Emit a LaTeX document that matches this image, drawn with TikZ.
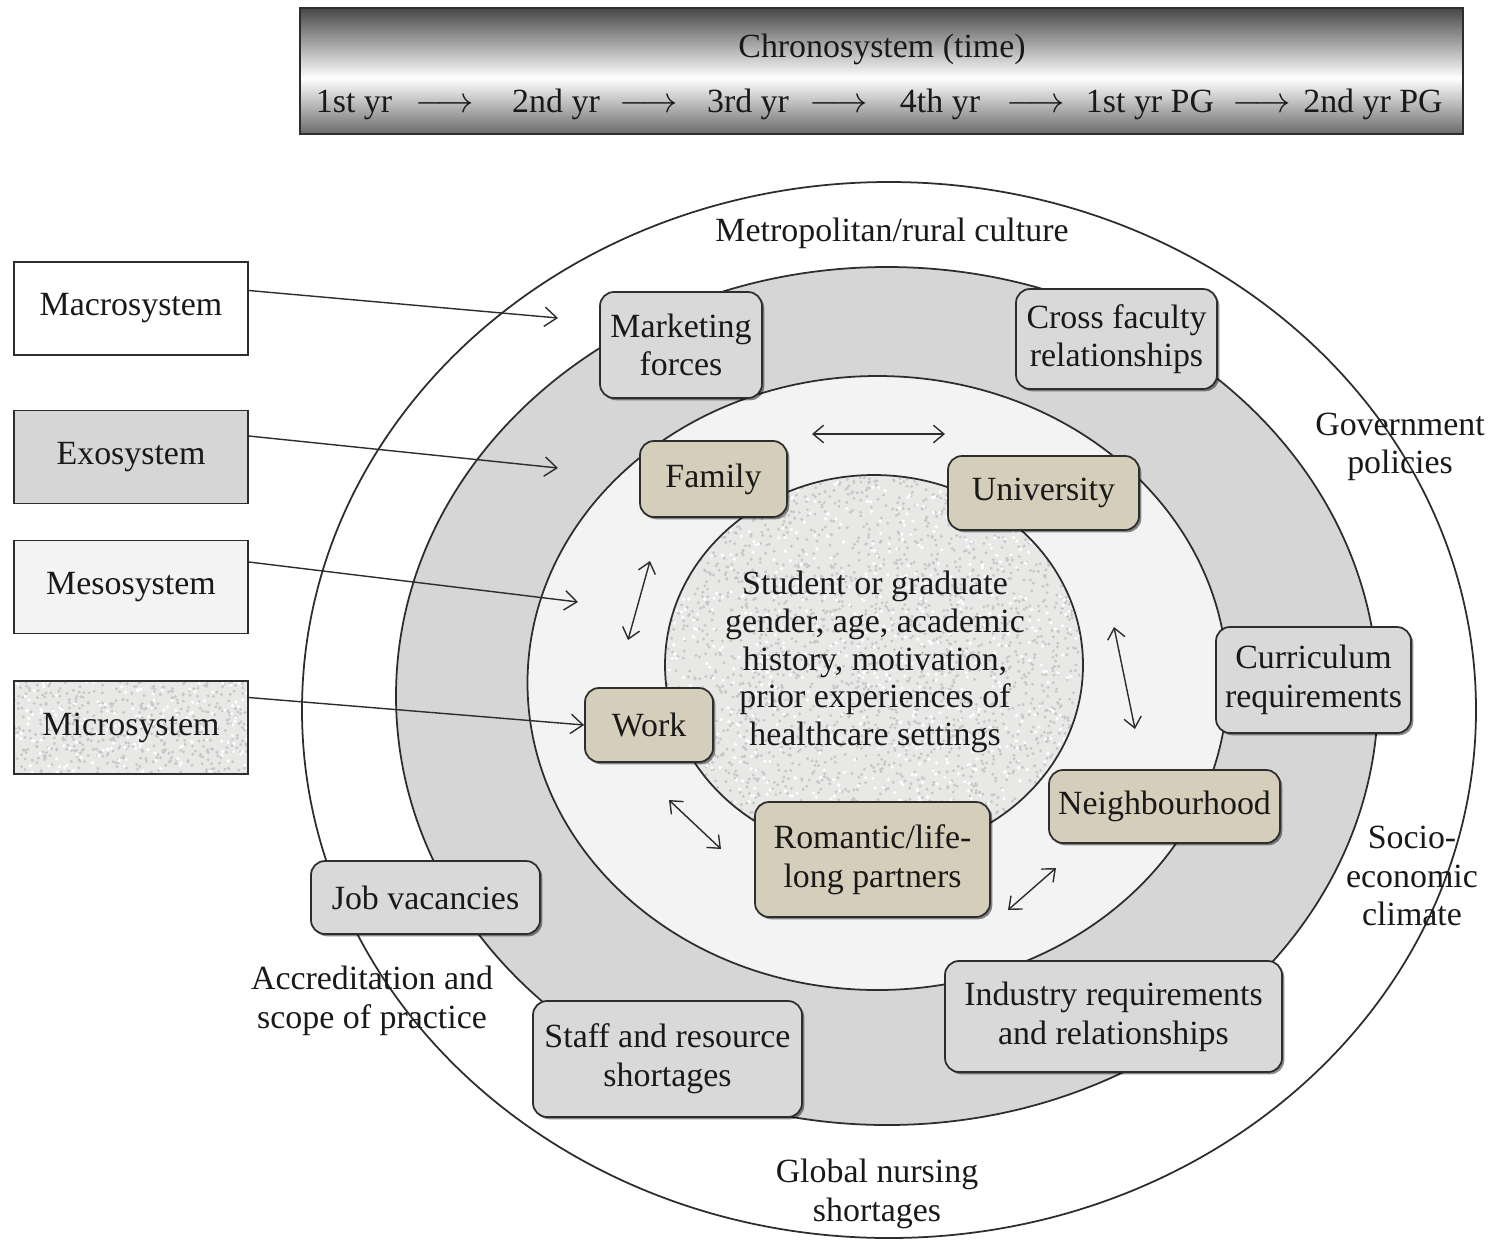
\documentclass[tikz,border=0pt]{standalone}
\usepackage{fontspec}
\setmainfont{Liberation Serif}
\usetikzlibrary{arrows.meta,shadows,calc}
\definecolor{exofill}{RGB}{214,214,214}
\definecolor{exoboxfill}{RGB}{217,217,217}
\definecolor{mesofill}{RGB}{243,243,243}
\definecolor{microfill}{RGB}{232,232,230}
\definecolor{tanfill}{RGB}{213,206,186}
\definecolor{edge}{RGB}{45,45,45}
\definecolor{ink}{RGB}{25,25,25}
\begin{document}
\begin{tikzpicture}[x=0.02cm,y=-0.02cm,
  every node/.style={font=\fontsize{19.3}{22}\selectfont, align=center, text=ink},
  sz/.style 2 args={minimum width=#1*0.02cm, minimum height=#2*0.02cm},
  legendbox/.style={draw=edge, line width=1pt, inner sep=0pt, sz={234}{93}},
  roundbox/.style={draw=edge, line width=1pt, inner sep=0pt, rounded corners=0.28cm,
     drop shadow={shadow xshift=1.3pt, shadow yshift=-1.3pt, opacity=0.45, fill=black}},
  exobox/.style={roundbox, fill=exoboxfill},
  microbox/.style={roundbox, fill=tanfill},
  ring/.style={draw=edge, line width=1pt},
  conn/.style={draw=edge, line width=0.8pt, -{Straight Barb[length=7pt,width=11pt]}},
  dconn/.style={draw=edge, line width=0.8pt, {Straight Barb[length=6pt,width=10pt]}-{Straight Barb[length=6pt,width=10pt]}},
  plain/.style={inner sep=0pt}
]
\useasboundingbox (0,0) rectangle (1497,1242);
\fill[white] (0,0) rectangle (1497,1242);

% ---------- Chronosystem bar ----------
\shade[top color=black!72, bottom color=white] (300,8) rectangle (1463,78);
\shade[top color=white, bottom color=black!58] (300,78) rectangle (1463,134);
\node[draw=edge, line width=1.3pt, sz={1163}{126}, inner sep=0pt] (chrono) at (881.5,71) {};
\node[plain, anchor=base] (ctitle) at (882,57) {Chronosystem (time)};
\node[plain, anchor=base] (y1) at (354,112) {1st yr};
\node[plain, anchor=base] (a1) at (445,112) {$\longrightarrow$};
\node[plain, anchor=base] (y2) at (556,112) {2nd yr};
\node[plain, anchor=base] (a2) at (649,112) {$\longrightarrow$};
\node[plain, anchor=base] (y3) at (748,112) {3rd yr};
\node[plain, anchor=base] (a3) at (839,112) {$\longrightarrow$};
\node[plain, anchor=base] (y4) at (940,112) {4th yr};
\node[plain, anchor=base] (a4) at (1036,112) {$\longrightarrow$};
\node[plain, anchor=base] (y5) at (1150,112) {1st yr PG};
\node[plain, anchor=base] (a5) at (1262,112) {$\longrightarrow$};
\node[plain, anchor=base] (y6) at (1373,112) {2nd yr PG};

% ---------- Nested ellipses ----------
\path[ring, fill=white] (889,710) ellipse [x radius=587, y radius=528];
\path[ring, fill=exofill] (887,696) ellipse [x radius=491, y radius=429];
\path[ring, fill=mesofill] (877.5,683) ellipse [x radius=350, y radius=307];
\begin{scope}
  \clip (874,665) ellipse [x radius=209, y radius=190];
  \fill[microfill] (874,665) ellipse [x radius=209, y radius=190];
  \pgfmathsetseed{7}
  \foreach \i in {1,...,2600}{\fill[black!22] ({874+209*rand},{665+190*rand}) circle[radius=1.6];}
  \foreach \i in {1,...,900}{\fill[white] ({874+209*rand},{665+190*rand}) circle[radius=1.8];}
\end{scope}
\draw[ring] (874,665) ellipse [x radius=209, y radius=190];

% ---------- Legend ----------
\node[legendbox, fill=white] (macro) at (131,308.5) {Macrosystem};
\node[legendbox, fill=exofill] (exo) at (131,457) {Exosystem};
\node[legendbox, fill=mesofill] (meso) at (131,587) {Mesosystem};
\begin{scope}
  \clip (14,681) rectangle (248,774);
  \fill[microfill] (14,681) rectangle (248,774);
  \pgfmathsetseed{11}
  \foreach \i in {1,...,480}{\fill[black!22] ({131+117*rand},{727.5+46.5*rand}) circle[radius=1.6];}
  \foreach \i in {1,...,170}{\fill[white] ({131+117*rand},{727.5+46.5*rand}) circle[radius=1.8];}
\end{scope}
\node[legendbox] (micro) at (131,727.5) {Microsystem};

% ---------- Exosystem boxes ----------
\node[exobox, sz={162}{106}] (mkt) at (681,345) {Marketing\\forces};
\node[exobox, sz={201}{100}] (cross) at (1116.5,339) {Cross faculty\\relationships};
\node[exobox, sz={195}{106}] (curr) at (1313.5,680) {Curriculum\\requirements};
\node[exobox, sz={337}{111}] (ind) at (1113.5,1016.5) {Industry requirements\\and relationships};
\node[exobox, sz={269}{116}] (staff) at (667.5,1059) {Staff and resource\\shortages};
\node[exobox, sz={229}{73}] (job) at (425.5,897.5) {Job vacancies};

% ---------- Microsystem boxes ----------
\node[microbox, sz={147}{76}] (family) at (713.5,479) {Family};
\node[microbox, sz={191}{74}] (univ) at (1043.5,493) {University};
\node[microbox, sz={128}{74}] (work) at (649,725) {Work};
\node[microbox, sz={235}{115}] (rom) at (872.5,859.5) {Romantic/life-\\long partners};
\node[microbox, sz={231}{73}] (nbh) at (1164.5,806.5) {Neighbourhood};

% ---------- Free labels ----------
\node[plain] (metro) at (892,233) {Metropolitan/rural culture};
\node[plain] (gov) at (1400,447) {Government\\policies};
\node[plain] (socio) at (1412,876) {Socio-\\economic\\climate};
\node[plain] (accr) at (372,1001) {Accreditation and\\scope of practice};
\node[plain] (global) at (877,1194) {Global nursing\\shortages};
\node[plain, font=\fontsize{19.3}{21.5}\selectfont] (student) at (875,662)
  {Student or graduate\\gender, age, academic\\history, motivation,\\prior experiences of\\healthcare settings};

% ---------- Legend connectors ----------
\coordinate (macroEnd) at (558,318);
\coordinate (exoEnd) at (558,468);
\coordinate (mesoEnd) at (578,602);
\draw[conn] ($(macro.east)+(0,-18)$) -- (macroEnd);
\draw[conn] ($(exo.east)+(0,-21)$) -- (exoEnd);
\draw[conn] ($(meso.east)+(0,-25)$) -- (mesoEnd);
\draw[conn] ($(micro.east)+(0,-30)$) -- (work.west);

% ---------- Mesosystem interaction arrows ----------
\coordinate (fu1) at (812,434);  \coordinate (fu2) at (945,434);
\coordinate (fw1) at (650,561);  \coordinate (fw2) at (628,640);
\coordinate (un1) at (1114,627); \coordinate (un2) at (1135,729);
\coordinate (wr1) at (669,800);  \coordinate (wr2) at (721,849);
\coordinate (rn1) at (1008,910); \coordinate (rn2) at (1056,868);
\draw[dconn] (fu1) -- (fu2);
\draw[dconn] (fw1) -- (fw2);
\draw[dconn] (un1) -- (un2);
\draw[dconn] (wr1) -- (wr2);
\draw[dconn] (rn1) -- (rn2);
\end{tikzpicture}
\end{document}
